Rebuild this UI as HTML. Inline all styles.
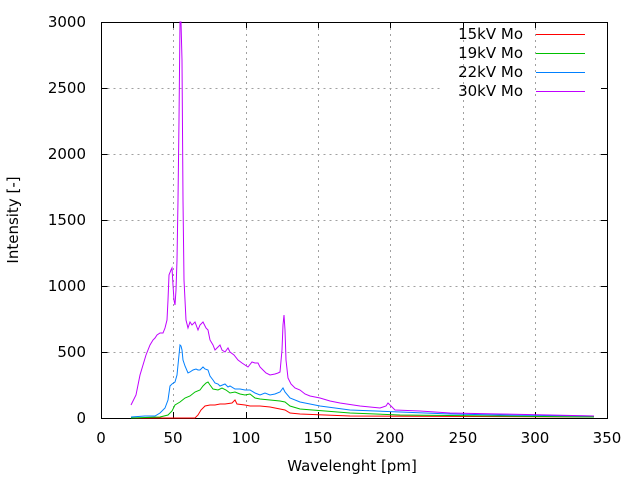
<!DOCTYPE html><html><head><style>body{margin:0;background:#fff}svg{display:block}text{font-family:"DejaVu Sans",sans-serif;font-size:15px;fill:#000}</style></head><body>
<svg width="640" height="480" viewBox="0 0 640 480">
<g stroke="#a0a0a0" stroke-dasharray="2,4" stroke-width="1">
<path d="M101.5 352.5H607M101.5 286.5H607M101.5 220.5H607M101.5 154.5H607M101.5 88.5H441M101.5 22.5H441"/>
<path d="M173.5 22V418M246.5 22V418M318.5 22V418M390.5 22V418M463.5 22V418M535.5 22V418"/>
</g>
<g stroke="#000" stroke-width="1" fill="none">
<rect x="101.5" y="22.5" width="506" height="396"/>
<path d="M101.5 418.5h6M101.5 352.5h6M101.5 286.5h6M101.5 220.5h6M101.5 154.5h6M101.5 88.5h6M607 418.5h-6M607 352.5h-6M607 286.5h-6M607 220.5h-6M607 154.5h-6M607 88.5h-6"/>
<path d="M173.5 418v-6M246.5 418v-6M318.5 418v-6M390.5 418v-6M463.5 418v-6M535.5 418v-6M173.5 22v6M246.5 22v6M318.5 22v6M390.5 22v6M463.5 22v6M535.5 22v6"/>
</g>
<g text-anchor="end">
<text x="86" y="423">0</text><text x="86" y="357">500</text><text x="86" y="291">1000</text><text x="86" y="225">1500</text><text x="86" y="159">2000</text><text x="86" y="93">2500</text><text x="86" y="27">3000</text>
</g>
<g text-anchor="middle">
<text x="101" y="443">0</text><text x="173" y="443">50</text><text x="246" y="443">100</text><text x="318" y="443">150</text><text x="390" y="443">200</text><text x="463" y="443">250</text><text x="535" y="443">300</text><text x="607" y="443">350</text>
<text x="352" y="471">Wavelenght [pm]</text>
<text transform="translate(18,220) rotate(-90)">Intensity [-]</text>
</g>
<g text-anchor="end">
<text x="523" y="39">15kV Mo</text><text x="523" y="58">19kV Mo</text><text x="523" y="77">22kV Mo</text><text x="523" y="96">30kV Mo</text>
</g>
<g fill="none" stroke-width="1">
<path stroke="#ff0000" d="M536 34.5h49"/><path stroke="#00c000" d="M536 53.5h49"/><path stroke="#0080ff" d="M536 72.5h49"/><path stroke="#c000ff" d="M536 91.5h49"/>
<polyline stroke="#ff0000" points="131,418 195,418 198,415 201,410 205,406 210,405 215,405 220,404 225,404 232,403 235,400 237,404 245,405 250,406 260,406 270,407 280,409 285,410 290,413 300,414 350,416 594,417"/>
<polyline stroke="#00c000" points="131,418 160,417 168,415 172,411 175,405 180,402 185,398 190,396 195,392 200,390 203,386 206,383 208,382 210,385 213,389 218,390 222,388 226,390 230,393 235,392 240,394 245,395 250,394 255,398 260,399 270,400 280,401 285,402 290,406 300,409 350,413 400,415 594,417"/>
<polyline stroke="#0080ff" points="131,417 145,416 155,416 160,413 165,408 168,400 170,386 172,384 175,382 177,375 178,365 179,355 180,345 181,346 182,350 183,360 185,366 188,373 190,372 193,370 196,369 198,370 200,370 203,367 205,369 208,370 210,376 213,380 215,383 218,384 220,386 225,384 228,387 230,386 235,389 240,389 245,390 250,390 255,393 260,395 265,393 270,395 275,394 280,392 283,388 285,392 290,398 300,402 320,406 350,410 400,412 450,414 500,415 594,416"/>
<polyline stroke="#c000ff" points="131,405 136,395 140,375 143,365 146,355 150,345 153,340 155,338 157,335 160,333 163,333 165,328 167,320 168,300 169,275 171,270 172,268 173,285 174,300 175,305 176,290 177,260 178,200 179,120 180,22 181,22 182,60 183,200 184,280 186,320 188,328 190,322 192,325 195,322 198,330 200,325 203,322 206,328 208,330 210,340 213,345 215,350 218,347 220,345 222,350 225,352 228,348 230,352 234,355 238,360 242,363 245,365 248,367 252,362 255,363 258,363 260,367 263,370 266,373 270,375 275,374 278,373 280,372 282,350 283,325 284,315 285,330 286,360 288,378 291,384 295,388 300,390 305,394 310,396 320,398 330,401 340,403 360,406 380,408 386,406 388,403 390,405 395,410 420,411 450,413 500,414 550,415 594,416"/>
</g>
</svg></body></html>
